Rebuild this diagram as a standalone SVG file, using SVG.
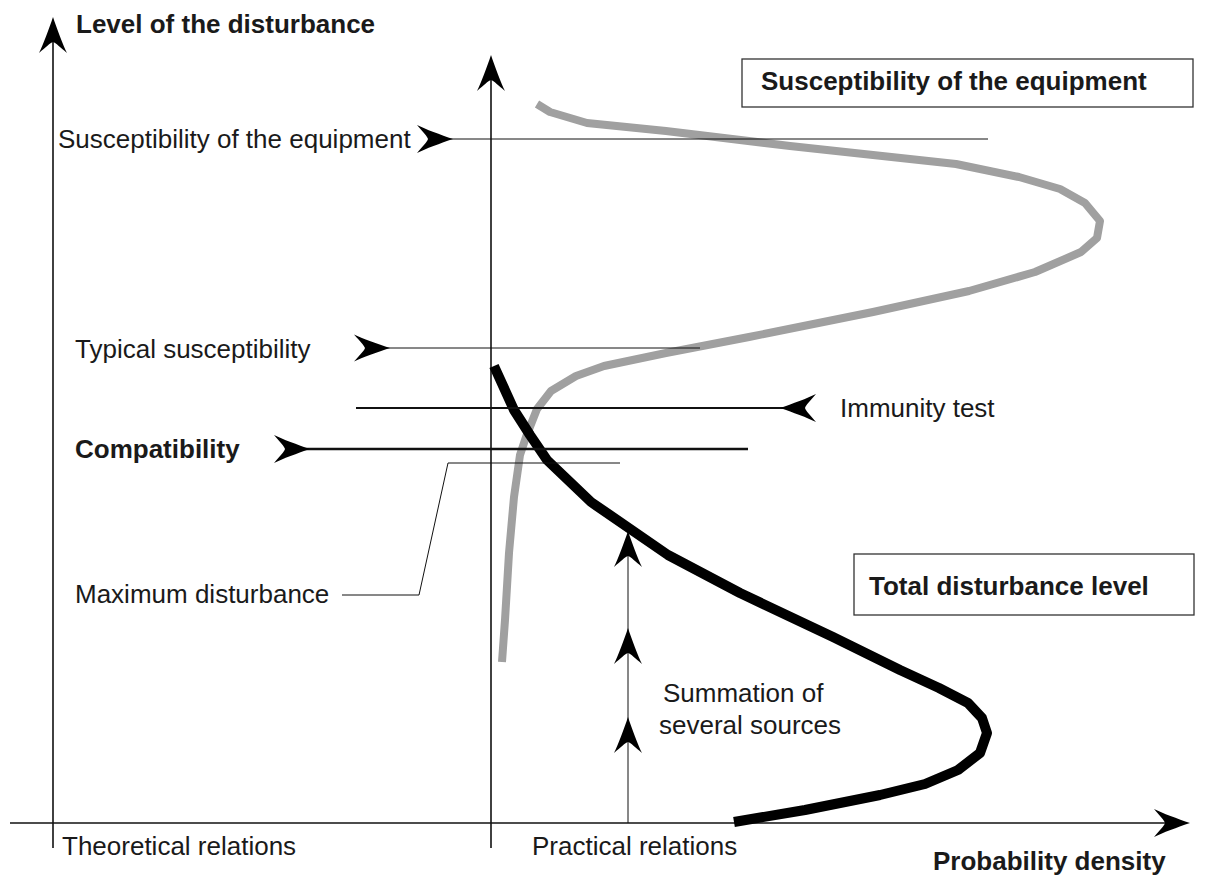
<svg xmlns="http://www.w3.org/2000/svg" xmlns:xlink="http://www.w3.org/1999/xlink" width="1229" height="877" viewBox="0 0 1229 877">
<style>
  text { font-family: "Liberation Sans", Arial, sans-serif; font-size: 26px; fill: #1a1a1a; }
  .b { font-weight: bold; }
  .ax { stroke: #111; stroke-width: 1.6; fill: none; }
  .thin { stroke: #111; stroke-width: 1; fill: none; }
  .mid { stroke: #111; stroke-width: 2; fill: none; }
  .thick { stroke: #111; stroke-width: 2.6; fill: none; }
  .box { fill: #fff; stroke: #333; stroke-width: 1.3; }
  .gray { stroke: #a0a0a0; stroke-width: 8; fill: none; stroke-linejoin: round; }
  .black { stroke: #000; stroke-width: 10; fill: none; stroke-linejoin: round; }
  .ah { fill: #000; }
</style>
<defs>
  <path id="ah" class="ah" d="M0,0 C-12,-4 -28,-10 -36,-14 C-30,-7 -26,-3 -25,0 C-26,3 -30,7 -36,14 C-28,10 -12,4 0,0 Z"/>
</defs>

<g id="axes">
  <line class="ax" x1="53" y1="40" x2="53" y2="848"/>
  <use xlink:href="#ah" transform="translate(53,17) rotate(-90)"/>
  <line class="ax" x1="491" y1="78" x2="491" y2="848"/>
  <use xlink:href="#ah" transform="translate(491,55) rotate(-90)"/>
  <line class="ax" x1="10" y1="823" x2="1170" y2="823"/>
  <use xlink:href="#ah" transform="translate(1190,823)"/>
</g>

<g id="curves">
  <polyline class="gray" points="537,104 550,112 587,123 666,131 790,146 873,155 956,164 1019,177 1060,189 1085,203 1100,221 1097,238 1081,252 1035,272 969,291 873,312 749,337 666,353 604,366 576,376 551,391 537,409 526,437 520,455 514,497 509,553 505,620 502,662"/>
  <polyline class="black" points="494,366 514,410 530,435 547,460 591,502 668,555 740,593 833,637 900,670 939,688 968,703 982,718 987,733 980,753 958,770 925,784 880,795 805,810 734,822"/>
</g>

<g id="connectors">
  <line class="thin" x1="440" y1="139" x2="988" y2="139"/>
  <use xlink:href="#ah" transform="translate(453,139)"/>
  <line class="thin" x1="380" y1="348" x2="700" y2="348"/>
  <use xlink:href="#ah" transform="translate(390,348) scale(1,0.97)"/>
  <line class="mid" x1="356" y1="408" x2="795" y2="408"/>
  <use xlink:href="#ah" transform="translate(780,408) rotate(180)"/>
  <line class="thick" x1="300" y1="449" x2="748" y2="449"/>
  <use xlink:href="#ah" transform="translate(310,449)"/>
  <polyline class="thin" points="620,463 448,463 419,595 342,595"/>
  <line class="thin" x1="628" y1="823" x2="628" y2="545"/>
  <use xlink:href="#ah" transform="translate(628,531) rotate(-90)"/>
  <use xlink:href="#ah" transform="translate(628,628) rotate(-90)"/>
  <use xlink:href="#ah" transform="translate(628,717) rotate(-90)"/>
</g>

<g id="box-susceptibility">
  <rect class="box" x="742" y="59" width="451" height="48"/>
  <text class="b" x="761" y="90">Susceptibility of the equipment</text>
</g>
<g id="box-total">
  <rect class="box" x="854" y="554" width="340" height="61"/>
  <text class="b" x="869" y="595">Total disturbance level</text>
</g>

<g id="labels">
  <text class="b" x="76" y="33">Level of the disturbance</text>
  <text x="58" y="148">Susceptibility of the equipment</text>
  <text x="75" y="358">Typical susceptibility</text>
  <text x="840" y="417">Immunity test</text>
  <text class="b" x="75" y="458">Compatibility</text>
  <text x="75" y="603">Maximum disturbance</text>
  <text x="663" y="702">Summation of</text>
  <text x="659" y="734">several sources</text>
  <text x="62" y="855">Theoretical relations</text>
  <text x="532" y="855">Practical relations</text>
  <text class="b" x="933" y="870">Probability density</text>
</g>
</svg>
